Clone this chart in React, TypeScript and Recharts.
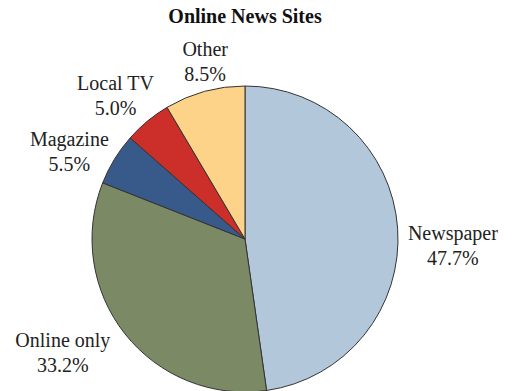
import { PieChart, Pie, Cell } from "recharts"

const categories = ["Newspaper", "Online only", "Magazine", "Local TV", "Other"]
const shares = [47.7, 33.2, 5.5, 5.0, 8.5]
const colors = ["#b3c7da", "#7b8a65", "#385a8a", "#cc2e2a", "#fdd38a"]

// label placement: distance from centre and angle nudge off the slice mid-angle
const labelNudge: Record<string, { r: number; da: number }> = {
  Newspaper: { r: 208, da: -6 },
  "Online only": { r: 215, da: -6.2 },
  Magazine: { r: 196, da: 5.1 },
  "Local TV": { r: 193, da: 2.5 },
  Other: { r: 181, da: -2.6 },
}

const data = categories.map((name, i) => ({ name, value: shares[i] }))

const RADIAN = Math.PI / 180
const font = '"Liberation Serif", "Times New Roman", serif'

function renderLabel(props: any) {
  const { cx, cy, midAngle, index } = props
  const name = categories[index]
  const n = labelNudge[name]
  const a = (midAngle + n.da) * RADIAN
  const x = cx + n.r * Math.cos(a)
  const y = cy - n.r * Math.sin(a)
  return (
    <text x={x} y={y} textAnchor="middle" fill="#222" fontSize={20} fontFamily={font}>
      <tspan x={x} y={y - 6}>{name}</tspan>
      <tspan x={x} y={y + 19}>{shares[index].toFixed(1)}%</tspan>
    </text>
  )
}

export default function App() {
  return (
    <div style={{ position: "absolute", left: 0, top: 0, width: 512, height: 391, background: "#fff" }}>
      <PieChart width={512} height={391} margin={{ top: 0, right: 0, bottom: 0, left: 0 }}>
        <text x={245} y={23} textAnchor="middle" fontSize={20} fontWeight="bold" fontFamily={font} fill="#111">
          Online News Sites
        </text>
        <Pie
          data={data}
          dataKey="value"
          nameKey="name"
          cx={245}
          cy={239}
          outerRadius={153}
          startAngle={90}
          endAngle={-270}
          stroke="#333"
          strokeWidth={1}
          label={renderLabel}
          labelLine={false}
          isAnimationActive={false}
        >
          {data.map((d, i) => (
            <Cell key={d.name} fill={colors[i]} />
          ))}
        </Pie>
      </PieChart>
    </div>
  )
}
